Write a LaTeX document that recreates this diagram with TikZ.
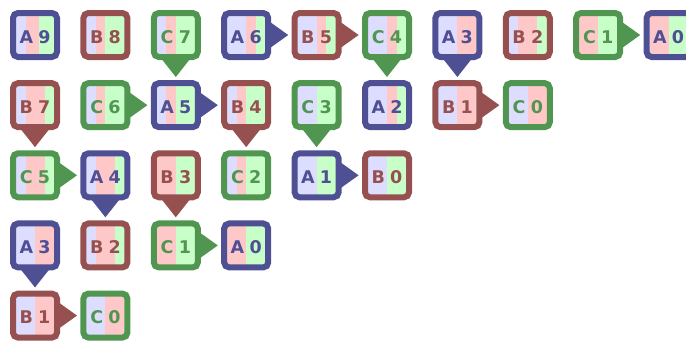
\documentclass[tikz,border=0pt]{standalone}
\usepackage{fontspec}
\setmainfont{DejaVu Sans}[BoldFont={DejaVu Sans Bold}]
\definecolor{cA}{RGB}{79,79,148}
\definecolor{cB}{RGB}{150,80,80}
\definecolor{cC}{RGB}{80,150,80}
\definecolor{lA}{RGB}{221,221,255}
\definecolor{lB}{RGB}{255,200,200}
\definecolor{lC}{RGB}{200,255,200}
\tikzset{
  tilebox/.style={rectangle, rounded corners=5pt, line width=6pt, minimum size=44pt,
    inner sep=0pt, outer sep=0pt, text height=16.5pt, text depth=0pt,
    font=\fontsize{17.5}{20}\selectfont\bfseries},
}
% #1 name, #2 col, #3 row, #4 letter, #5 digit, #6 blue frac, #7 red frac, #8 pointer R/D/N
\newcommand\mytile[8]{%
  \pgfmathsetmacro\cx{35+70.4*#2}%
  \pgfmathsetmacro\cy{35+70.15*#3}%
  \pgfmathsetmacro\xa{-19+38*#6}%
  \pgfmathsetmacro\xb{\xa+38*#7}%
  \begin{scope}[shift={(\cx,\cy)}]
    \fill[lA] (-22,-22) rectangle (\xa,22);
    \fill[lB] (\xa,-22) rectangle (\xb,22);
    \fill[lC] (\xb,-22) rectangle (22,22);
  \end{scope}
  \node[tilebox, draw=c#4, text=c#4] (#1) at (\cx,\cy) {#4\hspace{0.3em}#5};
  \if#8R\fill[c#4, shift={(#1.east)}] (-1,-15) -- (20,0) -- (-1,15) -- cycle;\fi
  \if#8D\fill[c#4, shift={(#1.south)}] (-15,1) -- (0,20) -- (15,1) -- cycle;\fi
}
\begin{document}
\begin{tikzpicture}[x=1pt,y=-1pt]
\useasboundingbox (0,0) rectangle (686,343);
% row 1
\mytile{a9}{0}{0}{A}{9}{0.26}{0.34}{N}
\mytile{b8}{1}{0}{B}{8}{0.25}{0.25}{N}
\mytile{c7}{2}{0}{C}{7}{0.25}{0.25}{D}
\mytile{a6}{3}{0}{A}{6}{0.5}{0.25}{R}
\mytile{b5}{4}{0}{B}{5}{0.5}{0.25}{R}
\mytile{c4}{5}{0}{C}{4}{0.5}{0.25}{D}
\mytile{a3}{6}{0}{A}{3}{0.5}{0.5}{D}
\mytile{b2}{7}{0}{B}{2}{0.25}{0.5}{N}
\mytile{c1}{8}{0}{C}{1}{0}{0.5}{R}
\mytile{a0}{9}{0}{A}{0}{0}{0.5}{N}
% row 2
\mytile{rb7}{0}{1}{B}{7}{0.25}{0.5}{D}
\mytile{rc6}{1}{1}{C}{6}{0.25}{0.25}{R}
\mytile{ra5}{2}{1}{A}{5}{0.25}{0.25}{R}
\mytile{rb4}{3}{1}{B}{4}{0.25}{0.25}{D}
\mytile{rc3}{4}{1}{C}{3}{0.5}{0}{D}
\mytile{ra2}{5}{1}{A}{2}{0.5}{0.25}{N}
\mytile{rb1}{6}{1}{B}{1}{0.5}{0.5}{R}
\mytile{rc0}{7}{1}{C}{0}{0.5}{0.5}{N}
% row 3
\mytile{sc5}{0}{2}{C}{5}{0.25}{0.5}{R}
\mytile{sa4}{1}{2}{A}{4}{0.25}{0.5}{D}
\mytile{sb3}{2}{2}{B}{3}{0}{0.5}{D}
\mytile{sc2}{3}{2}{C}{2}{0.25}{0.25}{N}
\mytile{sa1}{4}{2}{A}{1}{0.5}{0}{R}
\mytile{sb0}{5}{2}{B}{0}{0.5}{0}{N}
% row 4
\mytile{ta3}{0}{3}{A}{3}{0.5}{0.5}{D}
\mytile{tb2}{1}{3}{B}{2}{0.25}{0.5}{N}
\mytile{tc1}{2}{3}{C}{1}{0}{0.5}{R}
\mytile{ta0}{3}{3}{A}{0}{0}{0.5}{N}
% row 5
\mytile{ub1}{0}{4}{B}{1}{0.5}{0.5}{R}
\mytile{uc0}{1}{4}{C}{0}{0.5}{0.5}{N}
\end{tikzpicture}
\end{document}
